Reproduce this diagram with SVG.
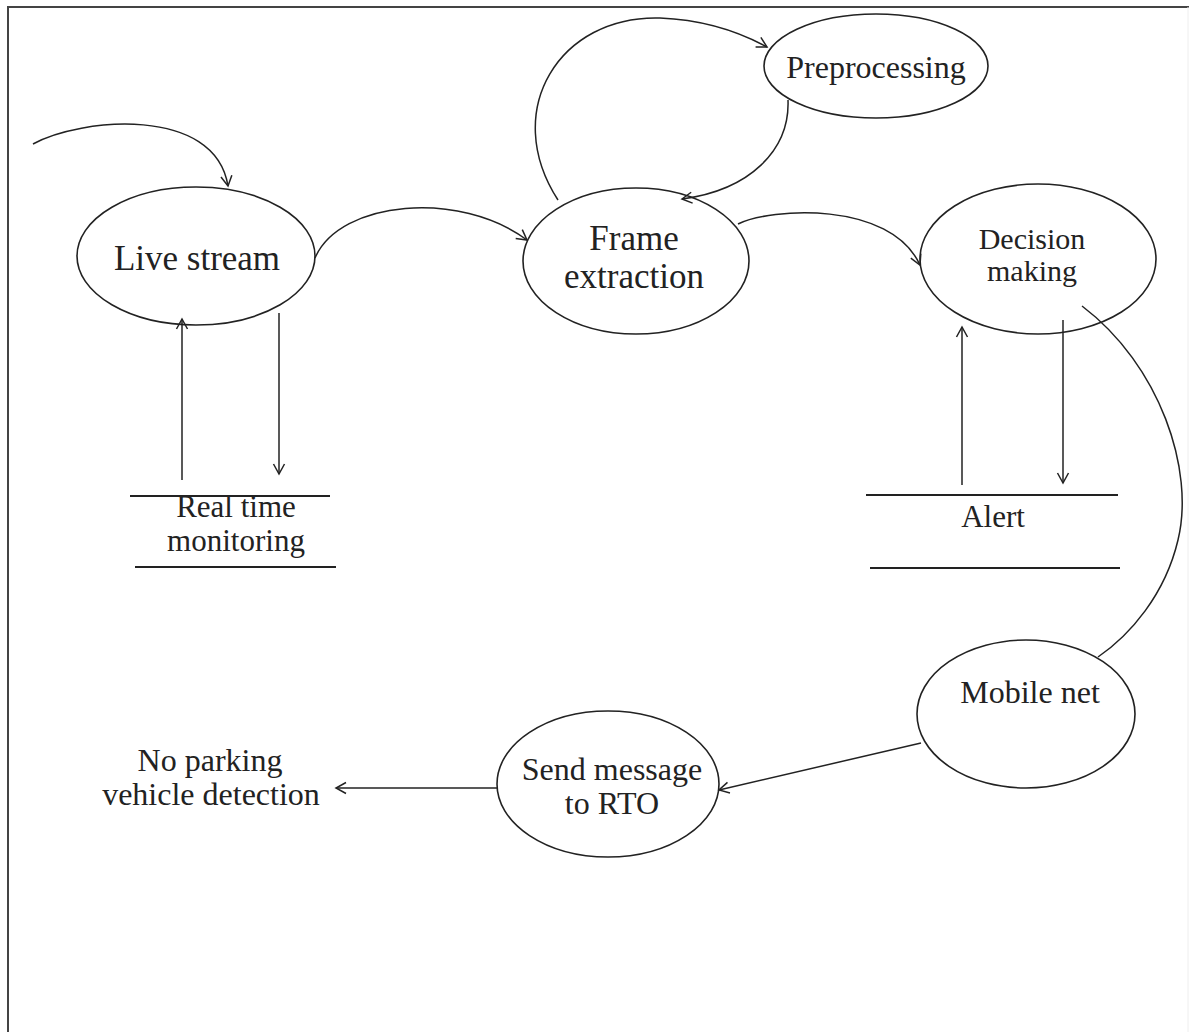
<svg xmlns="http://www.w3.org/2000/svg" width="1189" height="1032" viewBox="0 0 1189 1032">
  <defs>
    <marker id="arrow" markerUnits="userSpaceOnUse" markerWidth="14" markerHeight="14" viewBox="-12 -7 14 14" refX="0" refY="0" orient="auto">
      <path d="M-10,-5.5 L0,0 L-10,5.5" fill="none" stroke="#222" stroke-width="1.5"/>
    </marker>
    <style>
      .node { fill: none; stroke: #222; stroke-width: 1.6; }
      .edge { fill: none; stroke: #222; stroke-width: 1.5; }
      .store { stroke: #222; stroke-width: 1.8; }
      .label { font-family: "Liberation Serif", "Times New Roman", serif; fill: #222; text-anchor: middle; }
    </style>
  </defs>

  <rect width="1189" height="1032" fill="#fff"/>

  <!-- page frame -->
  <g id="frame">
    <line x1="7" y1="7" x2="1189" y2="7" stroke="#444" stroke-width="2"/>
    <line x1="8" y1="7" x2="8" y2="1032" stroke="#444" stroke-width="2"/>
    <line x1="1188" y1="7" x2="1188" y2="1032" stroke="#eee" stroke-width="1"/>
  </g>

  <!-- processes -->
  <g id="live-stream">
    <ellipse class="node" cx="196" cy="256" rx="119" ry="69"/>
    <text class="label" x="197" y="270" font-size="35">Live stream</text>
  </g>

  <g id="frame-extraction">
    <ellipse class="node" cx="636" cy="261" rx="113" ry="73"/>
    <text class="label" x="634" y="250" font-size="35">Frame</text>
    <text class="label" x="634" y="288" font-size="35">extraction</text>
  </g>

  <g id="preprocessing">
    <ellipse class="node" cx="876" cy="66" rx="112" ry="52"/>
    <text class="label" x="876" y="78" font-size="32">Preprocessing</text>
  </g>

  <g id="decision-making">
    <ellipse class="node" cx="1038" cy="259" rx="118" ry="75"/>
    <text class="label" x="1032" y="249" font-size="30">Decision</text>
    <text class="label" x="1032" y="281" font-size="30">making</text>
  </g>

  <g id="mobile-net">
    <ellipse class="node" cx="1026" cy="714" rx="109" ry="74"/>
    <text class="label" x="1030" y="703" font-size="32">Mobile net</text>
  </g>

  <g id="send-message">
    <ellipse class="node" cx="608" cy="784" rx="111" ry="73"/>
    <text class="label" x="612" y="780" font-size="32">Send message</text>
    <text class="label" x="612" y="814" font-size="32">to RTO</text>
  </g>

  <!-- data stores -->
  <g id="real-time-monitoring">
    <line class="store" x1="130" y1="496" x2="330" y2="496"/>
    <line class="store" x1="135" y1="567" x2="336" y2="567"/>
    <text class="label" x="236" y="517" font-size="31">Real time</text>
    <text class="label" x="236" y="551" font-size="31">monitoring</text>
  </g>

  <g id="alert">
    <line class="store" x1="866" y1="495" x2="1118" y2="495"/>
    <line class="store" x1="870" y1="568" x2="1120" y2="568"/>
    <text class="label" x="993" y="527" font-size="31">Alert</text>
  </g>

  <!-- output -->
  <g id="no-parking">
    <text class="label" x="210" y="771" font-size="32">No parking</text>
    <text class="label" x="211" y="805" font-size="32">vehicle detection</text>
  </g>

  <!-- flows -->
  <g id="connectors">
    <path class="edge" d="M33,144 C80,118 215,105 228,186" marker-end="url(#arrow)"/>
    <path class="edge" d="M315,258 C340,200 460,190 527,240" marker-end="url(#arrow)"/>
    <path class="edge" d="M558,200 C500,110 560,15 660,18 C710,20 745,35 767,47" marker-end="url(#arrow)"/>
    <path class="edge" d="M788,100 C790,150 750,190 682,199" marker-end="url(#arrow)"/>
    <path class="edge" d="M738,224 C770,208 890,200 920,265" marker-end="url(#arrow)"/>
    <path class="edge" d="M1082,306 C1160,365 1195,470 1178,540 C1165,595 1130,635 1098,657"/>
    <line class="edge" x1="921" y1="743" x2="719" y2="790" marker-end="url(#arrow)"/>
    <line class="edge" x1="497" y1="788" x2="336" y2="788" marker-end="url(#arrow)"/>
    <line class="edge" x1="182" y1="480" x2="182" y2="319" marker-end="url(#arrow)"/>
    <line class="edge" x1="279" y1="313" x2="279" y2="474" marker-end="url(#arrow)"/>
    <line class="edge" x1="962" y1="485" x2="962" y2="327" marker-end="url(#arrow)"/>
    <line class="edge" x1="1063" y1="320" x2="1063" y2="483" marker-end="url(#arrow)"/>
  </g>
</svg>
